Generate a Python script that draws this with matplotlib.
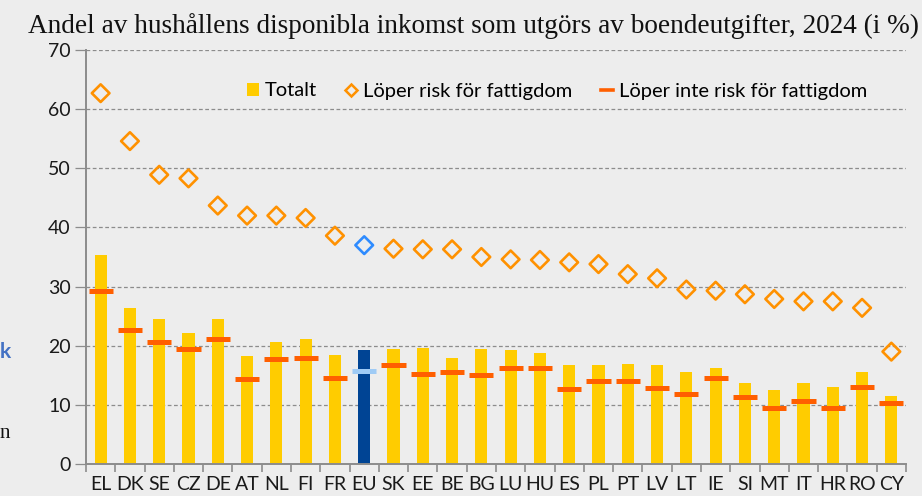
import matplotlib
matplotlib.use('Agg')
import matplotlib.pyplot as plt
from matplotlib.lines import Line2D
from matplotlib.patches import Patch
import numpy as np

countries = ['EL', 'DK', 'SE', 'CZ', 'DE', 'AT', 'NL', 'FI', 'FR', 'EU', 'SK', 'EE', 'BE', 'BG',
             'LU', 'HU', 'ES', 'PL', 'PT', 'LV', 'LT', 'IE', 'SI', 'MT', 'IT', 'HR', 'RO', 'CY']
totalt = [35.4, 26.3, 24.5, 22.2, 24.5, 18.2, 20.6, 21.1, 18.4, 19.3, 19.4, 19.6, 17.9, 19.4,
          19.3, 18.8, 16.7, 16.7, 16.9, 16.7, 15.5, 16.3, 13.7, 12.5, 13.7, 13.1, 15.5, 11.5]
risk = [62.7, 54.6, 48.9, 48.3, 43.7, 42.0, 42.0, 41.6, 38.6, 37.0, 36.4, 36.3, 36.3, 35.0,
        34.6, 34.5, 34.1, 33.8, 32.1, 31.4, 29.5, 29.3, 28.7, 27.9, 27.5, 27.5, 26.4, 19.0]
no_risk = [29.2, 22.7, 20.6, 19.4, 21.1, 14.3, 17.7, 17.9, 14.6, 15.8, 16.7, 15.3, 15.5, 15.0,
           16.3, 16.3, 12.6, 14.1, 14.0, 12.8, 11.9, 14.5, 11.4, 9.4, 10.6, 9.4, 13.0, 10.3]
yticks = [0, 10, 20, 30, 40, 50, 60, 70]
title = 'Andel av hushållens disponibla inkomst som utgörs av boendeutgifter, 2024 (i %)'
labels = ['Totalt', 'Löper risk för fattigdom', 'Löper inte risk för fattigdom']

BG = '#EDEDED'
YEL = '#FFCC00'
ORG = '#FF9100'
RED = '#FF5F00'
EU_BAR = '#004494'
EU_DIA = '#2E8BFF'
EU_DASH = '#9FCBF5'
GRID = '#8C8C8C'
SANS = ['Lato', 'DejaVu Sans']

fig = plt.figure(figsize=(9.22, 4.96), dpi=100, facecolor=BG)
ax = fig.add_axes([86/922, 1-464/496, (906-86)/922, (464-50)/496])
ax.set_facecolor(BG)

x = np.arange(len(countries))
is_eu = np.array([c == 'EU' for c in countries])

bar_cols = [EU_BAR if e else YEL for e in is_eu]
ax.bar(x, totalt, width=0.41, color=bar_cols, zorder=2)

dash_cols = [EU_DASH if e else RED for e in is_eu]
ax.hlines(no_risk, x - 0.41, x + 0.41, colors=dash_cols, linewidth=3.6, zorder=3)

dia_cols = [EU_DIA if e else ORG for e in is_eu]
ax.scatter(x, risk, marker='D', s=(9.0)**2, facecolors='none', edgecolors=dia_cols,
           linewidths=1.9, zorder=4)

ax.set_xlim(-0.5, len(countries) - 0.5)
ax.set_ylim(0, 70)
ax.set_yticks(yticks)
ax.set_yticklabels([str(v) for v in yticks], fontfamily=SANS, fontsize=14, color='#1a1a1a')
ax.yaxis.grid(True, linestyle=(0, (3, 2)), color=GRID, linewidth=0.9, zorder=0)
ax.set_axisbelow(True)
ax.tick_params(axis='y', length=8, color=GRID, width=0.9, pad=3)

ax.set_xticks(x)
ax.set_xticklabels(countries, fontfamily=SANS, fontsize=14, color='#1a1a1a')
ax.tick_params(axis='x', length=0, pad=9)
ax.set_xticks(np.arange(-0.5, len(countries), 1.0), minor=True)
ax.tick_params(axis='x', which='minor', length=6, color=GRID, width=1.2)

for s in ['top', 'right']:
    ax.spines[s].set_visible(False)
for s in ['left', 'bottom']:
    ax.spines[s].set_color(GRID)
    ax.spines[s].set_linewidth(1.4)

handles = [
    Patch(facecolor=YEL, edgecolor='none'),
    Line2D([], [], marker='D', linestyle='none', markerfacecolor='none',
           markeredgecolor=ORG, markersize=6.5, markeredgewidth=1.8),
    Line2D([], [], color=RED, linewidth=2.6),
]
leg = ax.legend(handles, labels, ncol=3, loc='center right',
                bbox_to_anchor=((867-86)/820, (464-91)/414),
                frameon=False, prop={'family': SANS, 'size': 14.5},
                handlelength=0.6, handleheight=0.6, handletextpad=0.3, columnspacing=1.4,
                borderaxespad=0, borderpad=0)

fig.text(28/922, 1-33/496, title, fontfamily='Liberation Serif', fontsize=19.6,
         ha='left', va='baseline', color='#111111')

fig.text(0.0, 1-352/496, 'k', color='#4472C4', fontfamily=SANS, fontsize=15,
         fontweight='bold', ha='left', va='center')
fig.text(0.0, 1-433/496, 'n', color='#111111', fontfamily='Liberation Serif', fontsize=15,
         ha='left', va='center')

fig.savefig('out.png', dpi=100, facecolor=BG)
